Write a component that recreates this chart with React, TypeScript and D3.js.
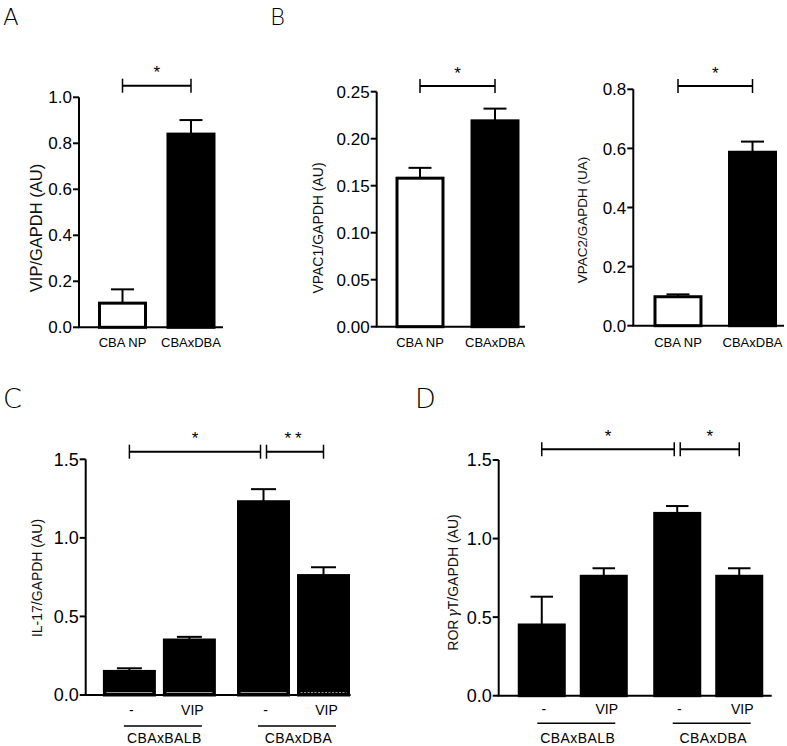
import React from "react";
import * as d3 from "d3";

// ---------- data ----------
const topCategories = ["CBA NP", "CBAxDBA"];
const topFills = ["white", "black"];

const vipMeans = [0.105, 0.84];
const vipErrors = [0.06, 0.061];
const vipTicks = [0, 0.2, 0.4, 0.6, 0.8, 1.0];

const vpac1Means = [0.158, 0.219];
const vpac1Errors = [0.011, 0.013];
const vpac1Ticks = [0, 0.05, 0.1, 0.15, 0.2, 0.25];

const vpac2Means = [0.098, 0.587];
const vpac2Errors = [0.008, 0.036];
const vpac2Ticks = [0, 0.2, 0.4, 0.6, 0.8];

const strainGroups = ["CBAxBALB", "CBAxDBA"];
const treatments = ["-", "VIP"];
// order: CBAxBALB -, CBAxBALB VIP, CBAxDBA -, CBAxDBA VIP
const il17Means = [0.15, 0.35, 1.23, 0.76];
const il17Errors = [0.02, 0.02, 0.08, 0.053];
const rorMeans = [0.45, 0.76, 1.16, 0.76];
const rorErrors = [0.18, 0.051, 0.047, 0.051];
const bottomTicks = [0, 0.5, 1.0, 1.5];

// significance: [label, fromIndex, toIndex]
const topSignif: [string, number, number][] = [["*", 0, 1]];
const il17Signif: [string, number, number][] = [["*", 0, 2], ["**", 2, 3]];
const rorSignif: [string, number, number][] = [["*", 0, 2], ["*", 2, 3]];

const FONT = "Arial, 'Liberation Sans', Helvetica, sans-serif";
const LETTER_FONT = "'DejaVu Sans', 'Open Sans', sans-serif";

type Bar = { cx: number; x: number; w: number; mean: number; err: number; fill: string; gray?: boolean; dashed?: boolean };

function YAxis({ axisX, xEnd, y, ticks, fmt, fontSize }: any) {
  const [y0] = y.range();
  const yTop = y(ticks[ticks.length - 1]);
  return (
    <g>
      <line x1={axisX} x2={axisX} y1={yTop} y2={y0} stroke="black" strokeWidth={2} />
      <line x1={axisX - 1} x2={xEnd} y1={y0} y2={y0} stroke="black" strokeWidth={2} />
      {ticks.map((t: number, i: number) => (
        <g key={i}>
          <line x1={axisX - 6} x2={axisX} y1={y(t)} y2={y(t)} stroke="black" strokeWidth={2} />
          <text x={axisX - 7} y={y(t)} dy="0.36em" textAnchor="end" fontSize={fontSize} fontFamily={FONT} fill="black">
            {d3.format(fmt)(t)}
          </text>
        </g>
      ))}
    </g>
  );
}

function Bars({ bars, y }: { bars: Bar[]; y: any }) {
  const y0 = y(0);
  return (
    <g>
      {bars.map((b, i) => {
        const top = y(b.mean);
        const et = y(b.mean + b.err);
        return (
          <g key={i}>
            <line x1={b.cx} x2={b.cx} y1={top} y2={et} stroke="black" strokeWidth={2} />
            <line x1={b.cx - b.w / 4} x2={b.cx + b.w / 4} y1={et} y2={et} stroke="black" strokeWidth={2} />
            <rect x={b.x} y={top} width={b.w} height={y0 - top} fill={b.fill} stroke="black" strokeWidth={3} />
            {b.gray && (
              <line x1={b.x + 2} x2={b.x + b.w - 2} y1={y0 - 2.5} y2={y0 - 2.5} stroke="#9a9a9a" strokeWidth={1}
                strokeDasharray={b.dashed ? "2,1.5" : undefined} />
            )}
          </g>
        );
      })}
    </g>
  );
}

function Brackets({ items, xs, by, gap, fontSize }: any) {
  return (
    <g>
      {items.map(([label, a, b]: [string, number, number], i: number) => {
        const x1 = xs[a] + (i > 0 ? gap : 0);
        const x2 = xs[b] - (i === 0 && items.length > 1 ? gap : 0);
        return (
          <g key={i}>
            <line x1={x1} x2={x2} y1={by} y2={by} stroke="black" strokeWidth={2} />
            <line x1={x1} x2={x1} y1={by - 7} y2={by + 7} stroke="black" strokeWidth={1.5} />
            <line x1={x2} x2={x2} y1={by - 7} y2={by + 7} stroke="black" strokeWidth={1.5} />
            <text x={(x1 + x2) / 2} y={by - 7.3} textAnchor="middle" fontSize={fontSize} fontFamily={FONT}
              letterSpacing={label.length > 1 ? 4 : 0}>
              {label}
            </text>
          </g>
        );
      })}
    </g>
  );
}

function YLabel({ x, y, children, fontSize = 14 }: any) {
  return (
    <text x={x} y={y} dy="0.35em" transform={`rotate(-90, ${x}, ${y})`} textAnchor="middle" fontSize={fontSize}
      fontFamily={FONT} fill="#111">
      {children}
    </text>
  );
}

function TopPanel({ cfg, means, errors, ticks }: any) {
  const y = d3.scaleLinear().domain([0, ticks[ticks.length - 1]]).range([cfg.y0, cfg.yTop]);
  const xb = d3.scaleBand().domain(topCategories).range(cfg.band).paddingInner(cfg.pad).paddingOuter(0);
  const bars: Bar[] = topCategories.map((c, i) => ({
    cx: (xb(c) as number) + xb.bandwidth() / 2,
    x: xb(c) as number,
    w: xb.bandwidth(),
    mean: means[i],
    err: errors[i],
    fill: topFills[i],
  }));
  return (
    <g>
      <Brackets items={topSignif} xs={bars.map((b) => b.cx)} by={cfg.bracketY} gap={3} fontSize={17} />
      <Bars bars={bars} y={y} />
      <YAxis axisX={cfg.axisX} xEnd={cfg.xEnd} y={y} ticks={ticks} fmt={cfg.fmt} fontSize={17} />
      {bars.map((b, i) => (
        <text key={i} x={b.cx} y={cfg.labelY} textAnchor="middle" fontSize={13} fontFamily={FONT}>
          {topCategories[i]}
        </text>
      ))}
      <YLabel x={cfg.ylabX} y={cfg.ylabY} fontSize={cfg.ylabSize}>{cfg.ylabel}</YLabel>
    </g>
  );
}

function BottomPanel({ cfg, means, errors, signif, ylabel }: any) {
  const y = d3.scaleLinear().domain([0, bottomTicks[bottomTicks.length - 1]]).range([cfg.y0, cfg.yTop]);
  const outer = d3.scaleBand().domain(strainGroups).range(cfg.band).paddingInner(cfg.outerPad).paddingOuter(0);
  const inner = d3.scaleBand().domain(treatments).range([0, outer.bandwidth()]).paddingInner(cfg.innerPad).paddingOuter(0);
  const bars: Bar[] = [];
  strainGroups.forEach((g, gi) => {
    treatments.forEach((t, ti) => {
      const idx = gi * treatments.length + ti;
      const x = (outer(g) as number) + (inner(t) as number);
      bars.push({
        cx: x + inner.bandwidth() / 2,
        x,
        w: inner.bandwidth(),
        mean: means[idx],
        err: errors[idx],
        fill: "black",
        gray: cfg.gray,
        dashed: cfg.gray && idx === 3,
      });
    });
  });
  return (
    <g>
      <Brackets items={signif} xs={bars.map((b) => b.cx)} by={cfg.bracketY} gap={3} fontSize={17} />
      <Bars bars={bars} y={y} />
      <YAxis axisX={cfg.axisX} xEnd={cfg.xEnd} y={y} ticks={bottomTicks} fmt=".1f" fontSize={18} />
      {bars.map((b, i) => (
        <text key={i} x={b.cx + (i % 2 === 1 ? 3 : 2)} y={cfg.tickLabY} textAnchor="middle" fontSize={14} fontFamily={FONT}>
          {treatments[i % 2]}
        </text>
      ))}
      {strainGroups.map((g, gi) => {
        const gc = (outer(g) as number) + outer.bandwidth() / 2 + 3.5;
        return (
          <g key={g}>
            <line x1={gc - 39} x2={gc + 39} y1={cfg.groupLineY} y2={cfg.groupLineY} stroke="black" strokeWidth={1.5} />
            <text x={gc + 1.5} y={cfg.groupLabY} textAnchor="middle" fontSize={14} fontFamily={FONT} letterSpacing={0.4}>
              {g}
            </text>
          </g>
        );
      })}
      <YLabel x={cfg.ylabX} y={cfg.ylabY} fontSize={14}>{ylabel}</YLabel>
    </g>
  );
}

const cfgA = { axisX: 79, xEnd: 223, y0: 327.3, yTop: 97.3, fmt: ".1f", band: [99.5, 214], pad: 0.328, labelY: 347, bracketY: 85.7, ylabX: 36.7, ylabY: 228, ylabSize: 16.5, ylabel: "VIP/GAPDH (AU)" };
const cfgB1 = { axisX: 376.7, xEnd: 525, y0: 326.7, yTop: 91.7, fmt: ".2f", band: [397, 518], pad: 0.387, labelY: 347, bracketY: 86, ylabX: 318.3, ylabY: 228, ylabSize: 14, ylabel: "VPAC1/GAPDH (AU)" };
const cfgB2 = { axisX: 633.3, xEnd: 784, y0: 325.7, yTop: 89.3, fmt: ".1f", band: [655, 775.5], pad: 0.383, labelY: 347, bracketY: 86, ylabX: 582.7, ylabY: 220, ylabSize: 13.5, ylabel: "VPAC2/GAPDH (UA)" };
const cfgC = { axisX: 85.7, xEnd: 350.7, y0: 695, yTop: 459.3, band: [104.4, 348.5], outerPad: 0.18, innerPad: 0.167, bracketY: 451.7, tickLabY: 715, groupLineY: 726, groupLabY: 743, ylabX: 36.7, ylabY: 578, gray: true };
const cfgD = { axisX: 498.7, xEnd: 771.7, y0: 695.7, yTop: 460, band: [519.25, 761.75], outerPad: 0.21, innerPad: 0.274, bracketY: 449.3, tickLabY: 714, groupLineY: 723.3, groupLabY: 742.7, ylabX: 453.3, ylabY: 582.5, gray: false };

export default function App() {
  return (
    <svg width={787} height={746} viewBox="0 0 787 746" style={{ position: "absolute", left: 0, top: 0, background: "white" }}>
      <rect width={787} height={746} fill="white" />
      <text x={3} y={25} fontSize={23} fontFamily={LETTER_FONT} fontWeight={200}>A</text>
      <text x={270} y={25} fontSize={23} fontFamily={LETTER_FONT} fontWeight={200}>B</text>
      <text x={3} y={408} fontSize={27} fontFamily={LETTER_FONT} fontWeight={200}>C</text>
      <text x={415} y={408} fontSize={27} fontFamily={LETTER_FONT} fontWeight={200}>D</text>
      <TopPanel cfg={cfgA} means={vipMeans} errors={vipErrors} ticks={vipTicks} />
      <TopPanel cfg={cfgB1} means={vpac1Means} errors={vpac1Errors} ticks={vpac1Ticks} />
      <TopPanel cfg={cfgB2} means={vpac2Means} errors={vpac2Errors} ticks={vpac2Ticks} />
      <BottomPanel cfg={cfgC} means={il17Means} errors={il17Errors} signif={il17Signif} ylabel="IL-17/GAPDH (AU)" />
      <BottomPanel cfg={cfgD} means={rorMeans} errors={rorErrors} signif={rorSignif}
        ylabel={<>ROR<tspan fontFamily="'DejaVu Serif', serif" fontStyle="italic" dx={2}>γ</tspan>T/GAPDH (AU)</>} />
    </svg>
  );
}
